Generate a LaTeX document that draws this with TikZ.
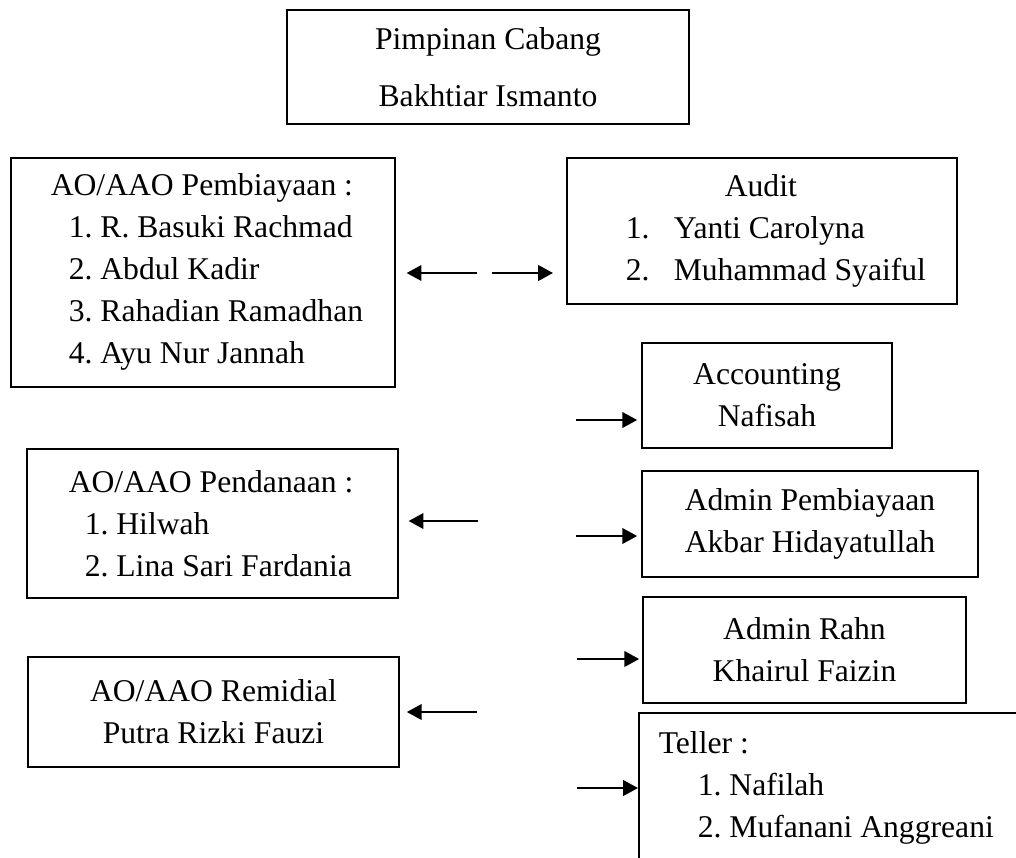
\documentclass[tikz,border=0pt]{standalone}
\usepackage{fontspec}
\setmainfont{Liberation Serif}
\usepackage{tikz}
\usetikzlibrary{arrows.meta, positioning}
\tikzset{
  box/.style     = {rectangle, draw, line width=1.1pt, align=center, inner sep=0pt,
                    font=\fontsize{22.5pt}{29.9pt}\selectfont},
  listbox/.style = {rectangle, draw, line width=1.1pt, align=flush left, anchor=north west,
                    inner xsep=0.25cm, inner ysep=0pt, font=\fontsize{22.5pt}{29.9pt}\selectfont},
  arrow/.style   = {line width=1.5pt, -{Triangle[length=10.5pt, width=11pt]}},
}
\frenchspacing

\begin{document}
\begin{tikzpicture}[x=0.025cm, y=-0.025cm]

    \useasboundingbox (0,0) rectangle (1016,857);
    \clip (0,0) rectangle (1016,857);

    %% Head of branch
    \node[box, minimum width=10.05cm, minimum height=2.85cm] (pimpinan) at (488,67)
      {Pimpinan Cabang\\[10.5pt] Bakhtiar Ismanto};

    %% Left column
    \node[listbox, text width=9.1cm, minimum height=5.725cm] (pembiayaan) at (10,157)
      {\hspace*{0.75cm}AO/AAO Pembiayaan :\\
       \hspace*{1.2cm}1. R. Basuki Rachmad\\
       \hspace*{1.2cm}2. Abdul Kadir\\
       \hspace*{1.2cm}3. Rahadian Ramadhan\\
       \hspace*{1.2cm}4. Ayu Nur Jannah};
    \node[listbox, text width=8.775cm, minimum height=3.725cm] (pendanaan) at (26,448)
      {\hspace*{0.8cm}AO/AAO Pendanaan :\\
       \hspace*{1.2cm}1. Hilwah\\
       \hspace*{1.2cm}2. Lina Sari Fardania};
    \node[box, minimum width=9.275cm, minimum height=2.75cm] (remidial) at (213.5,712)
      {AO/AAO Remidial\\ Putra Rizki Fauzi};

    %% Right column
    \node[listbox, text width=9.25cm, minimum height=3.65cm] (audit) at (566,157)
      {\hspace*{3.7cm}Audit\\
       \hspace*{1.225cm}\makebox[1.2cm][l]{1.}Yanti Carolyna\\
       \hspace*{1.225cm}\makebox[1.2cm][l]{2.}Muhammad Syaiful};
    \node[box, minimum width=6.25cm, minimum height=2.625cm] (accounting) at (767,395.5)
      {Accounting\\ Nafisah};
    \node[box, minimum width=8.4cm, minimum height=2.65cm] (adminpemb) at (810,524)
      {Admin Pembiayaan\\ Akbar Hidayatullah};
    \node[box, minimum width=8.075cm, minimum height=2.65cm] (adminrahn) at (804.5,650)
      {Admin Rahn\\ Khairul Faizin};
    \node[listbox, text width=9.5cm, minimum height=3.75cm] (teller) at (638,712)
      {\hspace*{0.25cm}Teller :\\
       \hspace*{1.225cm}1. Nafilah\\
       \hspace*{1.225cm}2. Mufanani Anggreani};

    %% Arrows
    \foreach \c/\x/\y in {t1/477/273, t2/492/273, t3/576/420, t4/576/536,
                          t5/577/659, t6/577/788, t7/478/521, t8/477/712}
      \coordinate (\c) at (\x,\y);

    \foreach \t/\n/\s in {t1/pembiayaan.east/0.275cm, t2/audit.west/0.325cm,
                          t3/accounting.west/0.1cm, t4/adminpemb.west/0.1cm,
                          t5/adminrahn.west/0.075cm, t6/teller.west/0cm,
                          t7/pendanaan.east/0.25cm, t8/remidial.east/0.175cm}
      \draw[arrow, shorten >=\s] (\t) -- (\t -| \n);

  \end{tikzpicture}
\end{document}
